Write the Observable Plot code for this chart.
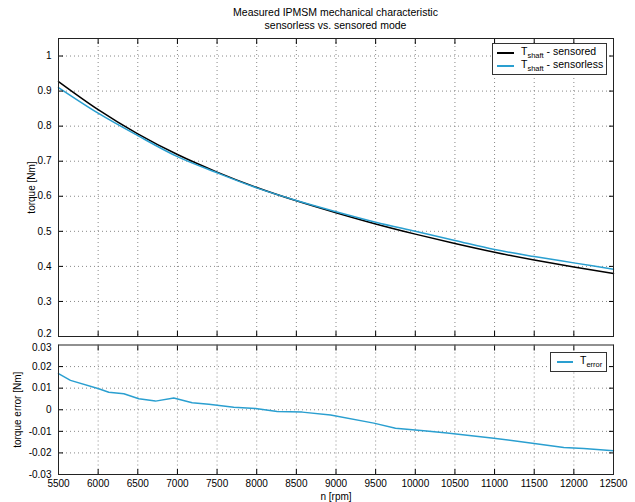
<!DOCTYPE html>
<html><head><meta charset="utf-8">
<script src="https://cdn.jsdelivr.net/npm/d3@7"></script>
<script src="https://cdn.jsdelivr.net/npm/@observablehq/plot@0.6"></script>
<style>
body{margin:0;background:#fff;}
#root{position:relative;width:635px;height:502px;font-family:"Liberation Sans",Arial,Helvetica,sans-serif;color:#000;}
#title{position:absolute;left:58px;width:555px;top:6px;text-align:center;font-size:10.5px;line-height:13px;}
#p1{position:absolute;left:0;top:0;}
#p2{position:absolute;left:0;top:340px;}
.legend{position:absolute;background:#fff;border:1px solid #333;font-size:10.5px;}
.row{position:relative;height:13px;white-space:nowrap;}
.sw{position:absolute;top:6px;height:2px;}
.lt{position:absolute;top:-1px;}
.lt sub{font-size:7.5px;vertical-align:-3px;}
</style></head>
<body><div id="root">
<div id="title">Measured IPMSM mechanical characteristic<br>sensorless vs. sensored mode</div>
<div id="p1"></div><div id="p2"></div>
<div class="legend" style="left:492px;top:43px;width:113px;height:30px;">
  <div class="row" style="margin-top:2px"><div class="sw" style="left:4px;width:17px;background:#000"></div><div class="lt" style="left:28px">T<sub>shaft</sub> - sensored</div></div>
  <div class="row"><div class="sw" style="left:4px;width:17px;background:#2a9fd0"></div><div class="lt" style="left:28px">T<sub>shaft</sub> - sensorless</div></div>
</div>
<div class="legend" style="left:550px;top:352px;width:55px;height:18px;">
  <div class="row" style="margin-top:2px"><div class="sw" style="left:6px;width:16px;background:#2a9fd0"></div><div class="lt" style="left:29px">T<sub>error</sub></div></div>
</div>
</div>
<script>
const speed = [5500,6000,6500,7000,7500,8000,8500,9000,9500,10000,10500,11000,11500,12000,12500];
const torqueSensored = [0.927,0.847,0.778,0.719,0.669,0.625,0.587,0.553,0.521,0.492,0.465,0.440,0.418,0.398,0.380];
const torqueSensorless = [0.910,0.837,0.773,0.713,0.667,0.624,0.588,0.556,0.526,0.500,0.474,0.448,0.428,0.410,0.392];
const errSpeed = [5500,5651,6008,6134,6324,6513,6723,6954,7186,7396,7711,7985,8259,8574,8931,9477,9750,10107,10402,10990,11453,11873,12125,12500];
const errValue = [0.0167,0.0136,0.0097,0.0081,0.0074,0.0051,0.0040,0.0054,0.0032,0.0025,0.0012,0.0006,-0.0008,-0.0011,-0.0024,-0.0062,-0.0086,-0.0097,-0.0108,-0.0132,-0.0154,-0.0175,-0.0180,-0.0190];
const xTicks = [5500,6000,6500,7000,7500,8000,8500,9000,9500,10000,10500,11000,11500,12000,12500];
const yTicksTop = [0.3,0.4,0.5,0.6,0.7,0.8,0.9,1];
const yTickTopEdge = [0.2];
const yTicksErr = [-0.03,-0.02,-0.01,0,0.01,0.02];
const yTickErrEdge = [0.03];

const cyan = "#2a9fd0";
const font = {fontFamily:'"Liberation Sans",Arial,Helvetica,sans-serif', fontSize:"10px", color:"#000", background:"transparent", overflow:"visible"};
const gridStyle = {stroke:"#888", strokeOpacity:1, strokeDasharray:"1,3", strokeWidth:1};
const sensored = speed.map((n,i)=>({n, t: torqueSensored[i]}));
const sensorless = speed.map((n,i)=>({n, t: torqueSensorless[i]}));
const err = errSpeed.map((n,i)=>({n, e: errValue[i]}));
const fmt1 = d => String(Math.round(d*10)/10);
const fmt2 = d => String(Math.round(d*100)/100);

const p1 = Plot.plot({
  width:635, height:340, marginTop:38, marginBottom:4, marginLeft:58, marginRight:22,
  style:font,
  x:{domain:[5500,12500]},
  y:{domain:[0.2,1.05]},
  marks:[
    Plot.gridX({ticks:xTicks, ...gridStyle}),
    Plot.gridY({ticks:yTicksTop, ...gridStyle}),
    Plot.line(sensored,{x:"n", y:"t", stroke:"#000", strokeWidth:1.5, curve:"monotone-x"}),
    Plot.line(sensorless,{x:"n", y:"t", stroke:cyan, strokeWidth:1.5, curve:"monotone-x"}),
    Plot.axisX({ticks:xTicks, anchor:"bottom", tickSize:-5, tickFormat:()=>"", label:null}),
    Plot.axisX({ticks:xTicks, anchor:"top", tickSize:-5, tickFormat:()=>"", label:null}),
    Plot.axisY({ticks:yTicksTop, anchor:"left", tickSize:-5, tickPadding:12, tickFormat:fmt1, label:"torque [Nm]", labelAnchor:"center", labelOffset:31, labelArrow:"none"}),
    Plot.axisY({ticks:yTickTopEdge, anchor:"left", tickSize:0, tickPadding:7, tickFormat:fmt1, label:null, dy:-3}),
    Plot.axisY({ticks:yTicksTop, anchor:"right", tickSize:-5, tickFormat:()=>"", label:null}),
    Plot.frame({stroke:"#222"})
  ]
});
document.getElementById("p1").append(p1);

const p2 = Plot.plot({
  width:635, height:162, marginTop:4.5, marginBottom:28, marginLeft:58, marginRight:22,
  style:font,
  x:{domain:[5500,12500]},
  y:{domain:[-0.03,0.03]},
  marks:[
    Plot.gridX({ticks:xTicks, ...gridStyle}),
    Plot.gridY({ticks:yTicksErr, ...gridStyle}),
    Plot.line(err,{x:"n", y:"e", stroke:cyan, strokeWidth:1.5}),
    Plot.axisX({ticks:xTicks, anchor:"bottom", tickSize:-5, tickPadding:10, tickFormat:d=>String(d), label:"n [rpm]", labelAnchor:"center", labelOffset:25, labelArrow:"none"}),
    Plot.axisX({ticks:xTicks, anchor:"top", tickSize:-5, tickFormat:()=>"", label:null}),
    Plot.axisY({ticks:yTicksErr, anchor:"left", tickSize:-5, tickPadding:12, tickFormat:fmt2, label:"torque error [Nm]", labelAnchor:"center", labelOffset:45, labelArrow:"none"}),
    Plot.axisY({ticks:yTickErrEdge, anchor:"left", tickSize:0, tickPadding:7, tickFormat:fmt2, label:null, dy:3}),
    Plot.axisY({ticks:yTicksErr, anchor:"right", tickSize:-5, tickFormat:()=>"", label:null}),
    Plot.frame({stroke:"#222"})
  ]
});
document.getElementById("p2").append(p2);
</script>
</body></html>
